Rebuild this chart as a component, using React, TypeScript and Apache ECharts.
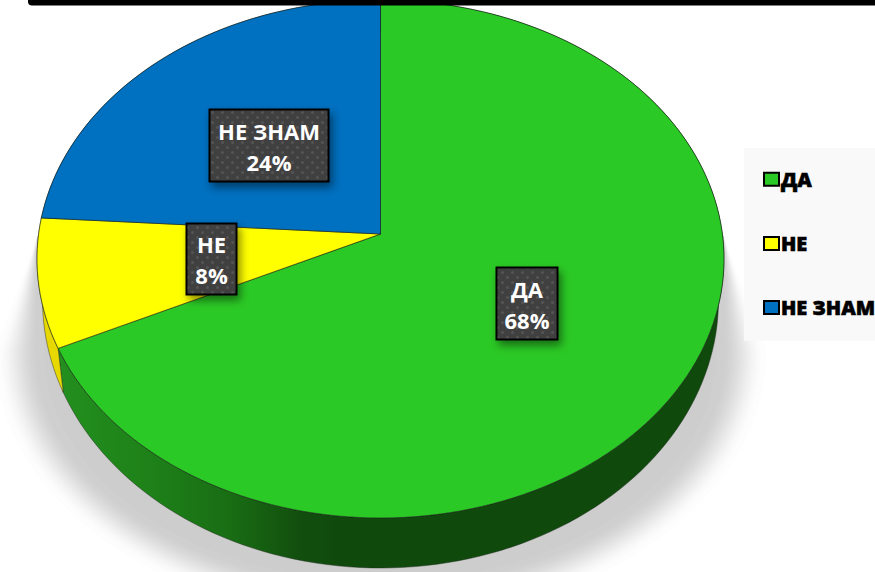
import React, { useEffect, useRef } from "react";
import * as echarts from "echarts";

const categories = ["ДА", "НЕ", "НЕ ЗНАМ"];
const percents = [68, 8, 24];
const topColors = ["#2bc925", "#ffff00", "#0070c0"];
const sideStops = [
  [["0", "#238f1e"], ["0.3", "#1e8219"], ["0.6", "#196e14"], ["0.85", "#124f0e"], ["1", "#0f4a0c"]],
  [["0", "#e6d800"], ["1", "#e6d800"]],
  [["0", "#004f88"], ["1", "#004f88"]],
];
const labelCenters = [[527, 303.5], [211.5, 259], [269, 145.5]];
const labelSizes = [[61, 72], [50, 71], [119, 72]];

// Geometry of the perspective pie
const TOP = { cx: 380.5, cy: 259, rx: 343.5, ry: 259 };
const BOTTOM = { cx: 380.5, cy: 300, rx: 338, ry: 268 };
const APEX_Y = 234;

function arcParams(theta: number) {
  const u = Math.sin(theta);
  const v = -Math.cos(theta);
  const b = (APEX_Y - TOP.cy) / TOP.ry;
  const t = -v * b + Math.sqrt(v * v * b * b - b * b + 1);
  return { s: t * u, c: -(v * t + b) };
}
function onEllipse(e: typeof TOP, p: { s: number; c: number }) {
  return [e.cx + e.rx * p.s, e.cy - e.ry * p.c];
}

function dotPattern() {
  const c = document.createElement("canvas");
  c.width = 10;
  c.height = 10;
  const g = c.getContext("2d")!;
  g.fillStyle = "#404040";
  g.fillRect(0, 0, 10, 10);
  g.fillStyle = "#555555";
  [[2.5, 2.5], [7.5, 7.5]].forEach(([x, y]) => {
    g.beginPath();
    g.arc(x, y, 1.5, 0, Math.PI * 2);
    g.fill();
  });
  return c;
}

const total = percents.reduce((a, b) => a + b, 0);
const starts = percents.map((_, i) => percents.slice(0, i).reduce((a, b) => a + b, 0));

const shadowLayers = Array.from({ length: 25 }, (_, i) => i);

export default function App() {
  const ref = useRef<HTMLDivElement>(null);
  useEffect(() => {
    const chart = echarts.init(ref.current!, undefined, { renderer: "svg" });
    const pattern = dotPattern();

    const sliceSeries = categories.map((name, i) => ({
      type: "custom" as const,
      name,
      coordinateSystem: "none",
      silent: true,
      itemStyle: { color: topColors[i] },
      data: [percents[i]],
      renderItem: (_p: any, api: any) => {
        const value = api.value(0);
        const a0 = (starts[i] / total) * Math.PI * 2;
        const a1 = a0 + (value / total) * Math.PI * 2;
        const n = Math.max(2, Math.ceil((a1 - a0) / 0.03));
        const params = Array.from({ length: n + 1 }, (_, k) => arcParams(a0 + ((a1 - a0) * k) / n));
        const topPts = params.map((p) => onEllipse(TOP, p));
        const botPts = params.map((p) => onEllipse(BOTTOM, p)).reverse();
        const stops = sideStops[i].map(([o, color]) => ({ offset: Number(o), color }));
        const [cxL, cyL] = labelCenters[i];
        const [w, h] = labelSizes[i];
        return {
          type: "group",
          children: [
            {
              type: "polygon",
              z2: 1,
              shape: { points: [...topPts, ...botPts] },
              style: {
                fill: new echarts.graphic.LinearGradient(60, 0, 340, 0, stops, true),
                stroke: "rgba(30,40,30,0.55)",
                lineWidth: 0.8,
              },
            },
            {
              type: "polygon",
              z2: 2,
              shape: { points: [[TOP.cx, APEX_Y], ...topPts] },
              style: { fill: topColors[i], stroke: "rgba(20,30,20,0.6)", lineWidth: 1 },
            },
            {
              type: "rect",
              z2: 3,
              shape: { x: cxL - w / 2, y: cyL - h / 2, width: w, height: h },
              style: {
                fill: { image: pattern, repeat: "repeat" },
                stroke: "#000",
                lineWidth: 2,
                shadowBlur: 8,
                shadowOffsetX: 3,
                shadowOffsetY: 5,
                shadowColor: "rgba(0,0,0,0.45)",
              },
            },
            {
              type: "text",
              z2: 4,
              style: {
                x: cxL,
                y: cyL + 0.5,
                text: `${name}\n${value}%`,
                fill: "#fff",
                font: 'bold 22px "Open Sans"',
                lineHeight: 31,
                align: "center",
                verticalAlign: "middle",
              },
            },
          ],
        };
      },
    }));

    chart.setOption({
      animation: false,
      backgroundColor: "#ffffff",
      legend: {
        left: 744,
        top: 148,
        orient: "vertical",
        data: categories,
        selectedMode: false,
        backgroundColor: "#f9f9f9",
        padding: [21, 20, 23, 19],
        itemWidth: 15,
        itemHeight: 13,
        itemGap: 43.5,
        icon: "rect",
        itemStyle: { borderColor: "#000", borderWidth: 2 },
        textStyle: {
          color: "#000",
          fontFamily: "Open Sans",
          fontWeight: 800,
          fontSize: 20,
          padding: [0, 0, 0, -3],
          textBorderColor: "#000",
          textBorderWidth: 0.6,
        },
      },
      graphic: [
        {
          type: "rect",
          z: 100,
          shape: { x: 28, y: -8, width: 860, height: 13.5, r: 4 },
          style: { fill: "#000" },
        },
      ],
      series: [
        {
          type: "custom",
          name: "shadow",
          coordinateSystem: "none",
          silent: true,
          data: shadowLayers,
          renderItem: (_p: any, api: any) => {
            const k0 = api.value(0) / (shadowLayers.length - 1);
            const k = 0.5 - Math.sin(Math.asin(1 - 2 * k0) / 3);
            const rx = 340 + 46 * k;
            const ry = 230 + 40 * k;
            const cy = 352;
            const d = `M37 236L${380.5 - rx} ${cy}A${rx} ${ry} 0 0 0 ${380.5 + rx} ${cy}L724 236Z`;
            return {
              type: "path",
              z2: 0,
              shape: { pathData: d, layout: "cover", x: 380.5 - rx, y: 236, width: 2 * rx, height: cy + ry - 236 },
              style: { fill: "rgba(0,0,0,0.008)" },
            };
          },
        },
        ...sliceSeries,
      ],
    });
    return () => chart.dispose();
  }, []);
  return (
    <div
      ref={ref}
      style={{ position: "fixed", left: 0, top: 0, width: 875, height: 572, background: "#fff" }}
    />
  );
}
